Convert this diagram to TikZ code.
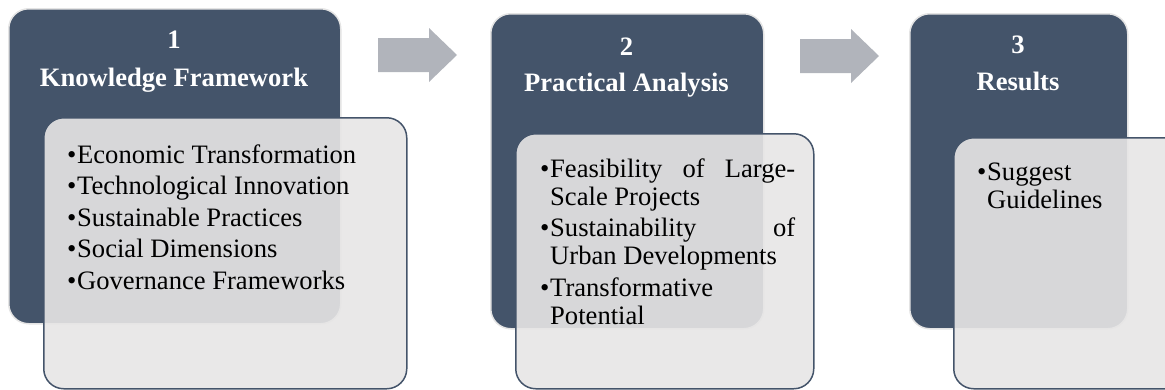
\documentclass[tikz,border=0pt]{standalone}
\usepackage{fontspec}
\setmainfont{Liberation Serif}
\usetikzlibrary{positioning}

\definecolor{slate}{HTML}{44546A}
\definecolor{paleframe}{HTML}{E4E4E4}
\definecolor{palefill}{HTML}{E7E6E6}
\definecolor{arrowgrey}{HTML}{B1B4BB}

\newcommand{\bitem}[1]{\hangindent=10pt\hangafter=1\noindent\makebox[10pt][l]{\textbullet}#1\par\vspace{3.5pt}}

\begin{document}
\begin{tikzpicture}[x=1pt,y=-1pt,
  darkbox/.style={draw=paleframe, line width=1.5pt, fill=slate, rounded corners=20pt, anchor=north west, inner sep=0pt},
  lightbox/.style={draw=slate, line width=1.5pt, fill=palefill, fill opacity=0.9, rounded corners=20pt, anchor=north west, inner sep=0pt},
  headtext/.style={text=white, font=\fontsize{26.6}{30}\selectfont\bfseries, anchor=base, inner sep=0pt},
  listtext/.style={font=\fontsize{26.6}{28}\selectfont, anchor=base west, inner sep=0pt, align=justify}]
 \clip (0,0) rectangle (1165,389);

 \foreach \ax/\ay in {378/55, 800/56}
  \fill[arrowgrey] (\ax,\ay-17) -- ++(51,0) -- ++(0,-10) -- (\ax+79,\ay) -- (\ax+51,\ay+27) -- ++(0,-10) -- (\ax,\ay+17) -- cycle;

 \node[darkbox, minimum width=332pt, minimum height=315pt] (frame1) at (8,8) {};
 \node[darkbox, minimum width=273pt, minimum height=315pt] (frame2) at (490,13) {};
 \node[darkbox, minimum width=218pt, minimum height=315pt] (frame3) at (909,13) {};

 \node[lightbox, minimum width=363pt, minimum height=271pt] (card1) at (43,117) {};
 \node[lightbox, minimum width=298pt, minimum height=255pt] (card2) at (515,133) {};
 \node[lightbox, minimum width=235pt, minimum height=251pt] (card3) at (953,137) {};

 \node[headtext] (num1) at (174,48) {1};
 \node[headtext] (title1) at (174,86) {Knowledge Framework};
 \node[headtext] (num2) at (626.5,55) {2};
 \node[headtext] (title2) at (626.5,91) {Practical Analysis};
 \node[headtext] (num3) at (1018,53) {3};
 \node[headtext] (title3) at (1018,90) {Results};

 \node[listtext, text width=300pt] (items1) at (67,163) {%
  \bitem{Economic Transformation}
  \bitem{Technological Innovation}
  \bitem{Sustainable Practices}
  \bitem{Social Dimensions}
  \bitem{Governance Frameworks}};
 \node[listtext, text width=255pt] (items2) at (540,177) {%
  \bitem{Feasibility of Large-\linebreak Scale Projects}
  \bitem{Sustainability of\linebreak Urban Developments}
  \bitem{Transformative\newline Potential}};
 \node[listtext, text width=180pt] (items3) at (977,180) {%
  \bitem{Suggest\newline Guidelines}};
\end{tikzpicture}
\end{document}
